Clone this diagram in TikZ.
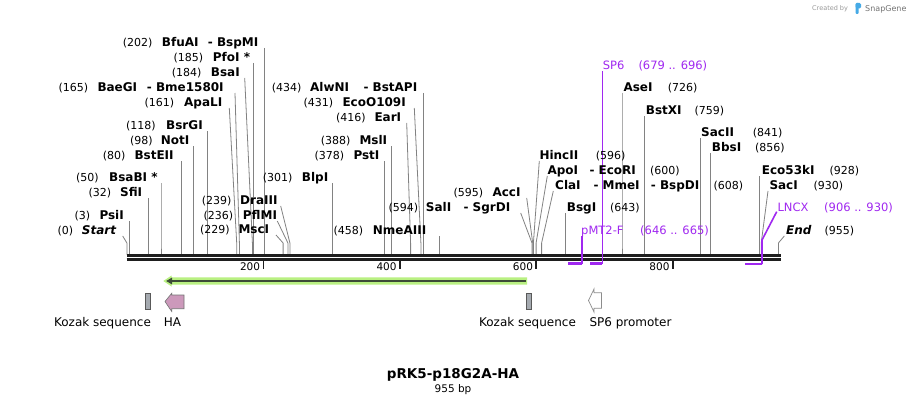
\documentclass[tikz,border=0pt]{standalone}
\usepackage{fontspec}
\setmainfont{DejaVu Sans}
\definecolor{cutgray}{RGB}{130,130,130}
\definecolor{seqblack}{RGB}{30,30,30}
\definecolor{primv}{RGB}{160,40,240}
\definecolor{orfgreen}{RGB}{185,240,130}
\definecolor{orfdark}{RGB}{60,75,55}
\definecolor{kozakfill}{RGB}{165,170,176}
\definecolor{hapink}{RGB}{204,153,187}
\definecolor{sglogo}{RGB}{70,170,230}
\tikzset{
  enzname/.style={anchor=base west, inner sep=0pt, font=\bfseries\fontsize{12}{14}\selectfont},
  enznum/.style={anchor=base west, inner sep=0pt, font=\fontsize{11}{13}\selectfont},
  primlbl/.style={anchor=base west, inner sep=0pt, text=primv, font=\fontsize{11.5}{13}\selectfont},
  featlbl/.style={anchor=base, inner sep=0pt, font=\fontsize{12}{14}\selectfont},
  rulerlbl/.style={anchor=base east, inner sep=0pt, font=\fontsize{10.5}{12}\selectfont},
  cut/.style={draw=cutgray, line width=0.8pt},
  seqline/.style={draw=seqblack, line width=2.6pt},
  tickmark/.style={draw=seqblack, line width=1.6pt},
  primline/.style={draw=primv, line width=1.6pt},
  primbar/.style={draw=primv, line width=2.2pt}
}
\newcommand\enzn[4]{\node[enzname] (#1) at (#2,#3+4.4) {#4};}
\newcommand\enzp[4]{\node[enznum] (#1) at (#2,#3+4.2) {#4};}
\newcommand\cutl[4]{\coordinate (#1) at (#4,254.5); \draw[cut] (#2,#3) -- (#4,243) -- (#1);}
\newcommand\tickat[3]{\coordinate (#1) at (#2,269); \draw[tickmark] (#2,260.5) -- (#1); \node[rulerlbl] (#1l) at (#2-3,270.3) {#3};}
\begin{document}
\begin{tikzpicture}[x=1pt,y=-1pt]
\useasboundingbox[fill=white] (0,0) rectangle (908,404);

% ---- cut-site connectors ----
\cutl{sStart}{122.7}{236}{126.9}
\cutl{sPsiI}{128.9}{221}{128.9}
\cutl{sSfiI}{148.7}{198}{148.7}
\cutl{sBsaBI}{161}{183}{161}
\cutl{sBstEII}{181.5}{161}{181.5}
\cutl{sNotI}{193.7}{146}{193.7}
\cutl{sBsrGI}{207.4}{131}{207.4}
\cutl{sApaLI}{229.3}{108}{236.7}
\cutl{sBaeGI}{235}{93}{239.4}
\cutl{sBsaI}{244.7}{78}{252.4}
\cutl{sPfoI}{253.1}{63}{253.1}
\cutl{sBfuAI}{264.7}{48}{264.7}
\cutl{sMscI}{276}{235}{283.1}
\cutl{sPflMI}{277.3}{221}{287.9}
\cutl{sDraIII}{280.7}{206}{289.9}
\cutl{sBlpI}{332.2}{183}{332.2}
\cutl{sPstI}{384.7}{161}{384.7}
\cutl{sMslI}{391.5}{146}{391.5}
\cutl{sEarI}{406.7}{123}{410.6}
\cutl{sEcoO}{414.3}{108}{420.9}
\cutl{sAlwNI}{422.9}{93}{422.9}
\cutl{sNmeAIII}{439.3}{236}{439.3}
\cutl{sSalI}{520.7}{213}{532}
\cutl{sAccI}{526.7}{198}{532.7}
\cutl{sHincII}{539.3}{161}{533.4}
\cutl{sApoI}{547.3}{176}{536.1}
\cutl{sClaI}{553.3}{191}{541.6}
\cutl{sBsgI}{565.4}{213}{565.4}
\cutl{sAseI}{622}{93}{622}
\cutl{sBstXI}{644.5}{116}{644.5}
\cutl{sSacII}{700.5}{138}{700.5}
\cutl{sBbsI}{710.7}{153}{710.7}
\cutl{sEco53kI}{759.8}{176}{759.8}
\cutl{sSacI}{768}{191}{761.2}
\cutl{sEnd}{784.3}{236}{778.4}

% ---- sequence ----
\coordinate (seqA1) at (126.5,255.3); \coordinate (seqA2) at (781,255.3);
\coordinate (seqB1) at (126.5,259.3); \coordinate (seqB2) at (781,259.3);
\draw[seqline] (seqA1) -- (seqA2);
\draw[seqline] (seqB1) -- (seqB2);
\tickat{t200}{263.3}{200}
\tickat{t400}{399.8}{400}
\tickat{t600}{536.2}{600}
\tickat{t800}{672.7}{800}

% ---- primers ----
\node[primlbl] (SP6) at (602.7,65+4.2) {SP6};
\node[primlbl] (SP6r) at (638.3,65+4.2) {(679 .. 696)};
\node[primlbl] (pMT) at (581,230+4.2) {pMT2-F};
\node[primlbl] (pMTr) at (640,230+4.2) {(646 .. 665)};
\node[primlbl] (LNCX) at (777.3,207+4.2) {LNCX};
\node[primlbl] (LNCXr) at (824,207+4.2) {(906 .. 930)};
\coordinate (pSP6a) at (590,263.5); \coordinate (pSP6b) at (602.3,263.5);
\draw[primbar] (pSP6a) -- (pSP6b);
\draw[primline] (pSP6b) -- (602.3,71);
\coordinate (pMTa) at (568,263.5); \coordinate (pMTb) at (581.7,263.5);
\draw[primbar] (pMTa) -- (pMTb);
\draw[primline] (pMTb) -- (581.7,235.5);
\coordinate (pLa) at (745,264); \coordinate (pLb) at (762,264);
\draw[primbar] (pLa) -- (pLb);
\draw[primline] (pLb) -- (762,240) -- (776.7,211.7);

% ---- enzyme labels, left ----
\enzp{n202}{122.7}{42}{(202)} \enzn{BfuAI}{161.7}{42}{BfuAI} \enzn{BspMI}{207.7}{42}{- BspMI}
\enzp{n185}{173.3}{57}{(185)} \enzn{PfoI}{212.7}{57}{PfoI *}
\enzp{n184}{171.7}{72}{(184)} \enzn{BsaI}{210.7}{72}{BsaI}
\enzp{n165}{58.3}{87}{(165)} \enzn{BaeGI}{97.3}{87}{BaeGI} \enzn{Bme}{146.7}{87}{- Bme1580I}
\enzp{n161}{144.3}{102}{(161)} \enzn{ApaLI}{184}{102}{ApaLI}
\enzp{n118}{126}{125}{(118)} \enzn{BsrGI}{166}{125}{BsrGI}
\enzp{n98}{130}{140}{(98)} \enzn{NotI}{160.7}{140}{NotI}
\enzp{n80}{102.7}{155}{(80)} \enzn{BstEII}{134.3}{155}{BstEII}
\enzp{n50}{76}{177}{(50)} \enzn{BsaBI}{109}{177}{BsaBI *}
\enzp{n32}{88.3}{192}{(32)} \enzn{SfiI}{120}{192}{SfiI}
\enzp{n3}{74.3}{215}{(3)} \enzn{PsiI}{99.3}{215}{PsiI}
\enzp{n0}{57.3}{230}{(0)} \enzn{Start}{81.7}{230}{\itshape Start}
\enzp{n239}{201.7}{200}{(239)} \enzn{DraIII}{240}{200}{DraIII}
\enzp{n236}{203.3}{215}{(236)} \enzn{PflMI}{242.7}{215}{PflMI}
\enzp{n229}{200}{229}{(229)} \enzn{MscI}{238.3}{229}{MscI}
\enzp{n301}{262.7}{177}{(301)} \enzn{BlpI}{301.7}{177}{BlpI}
\enzp{n434}{271.7}{87}{(434)} \enzn{AlwNI}{310}{87}{AlwNI} \enzn{BstAPI}{363.3}{87}{- BstAPI}
\enzp{n431}{303.3}{102}{(431)} \enzn{EcoO}{342.3}{102}{EcoO109I}
\enzp{n416}{336}{117}{(416)} \enzn{EarI}{374.3}{117}{EarI}
\enzp{n388}{320.7}{140}{(388)} \enzn{MslI}{359.3}{140}{MslI}
\enzp{n378}{314.3}{155}{(378)} \enzn{PstI}{353.3}{155}{PstI}
\enzp{n595}{453.3}{192}{(595)} \enzn{AccI}{492.3}{192}{AccI}
\enzp{n594}{388.3}{207}{(594)} \enzn{SalI}{425.7}{207}{SalI} \enzn{SgrDI}{463.3}{207}{- SgrDI}
\enzp{n458}{333.3}{230}{(458)} \enzn{NmeAIII}{372.7}{230}{NmeAIII}

% ---- enzyme labels, right ----
\enzn{HincII}{539.3}{155}{HincII} \enzp{n596}{595.7}{155}{(596)}
\enzn{ApoI}{547.3}{170}{ApoI} \enzn{EcoRI}{589.3}{170}{- EcoRI} \enzp{n600}{650}{170}{(600)}
\enzn{ClaI}{555}{185}{ClaI} \enzn{MmeI}{593.3}{185}{- MmeI} \enzn{BspDI}{650.7}{185}{- BspDI} \enzp{n608}{713.3}{185}{(608)}
\enzn{BsgI}{566.7}{207}{BsgI} \enzp{n643}{610}{207}{(643)}
\enzn{AseI}{623.3}{87}{AseI} \enzp{n726}{667.7}{87}{(726)}
\enzn{BstXI}{645.7}{110}{BstXI} \enzp{n759}{694.3}{110}{(759)}
\enzn{SacII}{701}{132}{SacII} \enzp{n841}{752.7}{132}{(841)}
\enzn{BbsI}{711.7}{147}{BbsI} \enzp{n856}{755}{147}{(856)}
\enzn{Eco53kI}{761.7}{170}{Eco53kI} \enzp{n928}{829.3}{170}{(928)}
\enzn{SacI}{769.3}{185}{SacI} \enzp{n930}{813.3}{185}{(930)}
\enzn{End}{786}{230}{\itshape End} \enzp{n955}{824.3}{230}{(955)}

% ---- ORF arrow ----
\fill[orfgreen] (527,277.3) -- (171.5,277.3) -- (171.5,275.5) -- (163.3,281) -- (171.5,286.5) -- (171.5,284.7) -- (527,284.7) -- cycle;
\coordinate (orfR) at (525.5,281); \coordinate (orfL) at (170.5,281);
\draw[orfdark, line width=2.6pt] (orfR) -- (orfL);
\fill[orfdark] (166.2,281) -- (172,277.6) -- (172,284.4) -- cycle;

% ---- features ----
\draw[fill=kozakfill, draw=black!65, line width=0.9pt] (145,293.3) rectangle (150.5,309.8);
\draw[fill=kozakfill, draw=black!65, line width=0.9pt] (526,293.3) rectangle (531.5,309.8);
\draw[fill=hapink, draw=black!55, line width=0.6pt] (165,301.5) -- (171.7,293.3) -- (171.7,295) -- (184,295) -- (184,308.7) -- (171.7,308.7) -- (171.7,311.5) -- cycle;
\draw[fill=white, draw=black!45, line width=0.7pt] (588.5,300.5) -- (594,289) -- (594,292.7) -- (601.5,292.7) -- (601.5,308.3) -- (594,308.3) -- (594,312) -- cycle;
\node[featlbl] (kozL) at (102.5,326) {Kozak sequence};
\node[featlbl] (haL) at (172.5,326) {HA};
\node[featlbl] (kozR) at (527.5,326) {Kozak sequence};
\node[featlbl] (sp6L) at (630.5,326) {SP6 promoter};

% ---- title ----
\node[anchor=base, inner sep=0pt, font=\bfseries\fontsize{13.5}{16}\selectfont] (title) at (453,378) {pRK5-p18G2A-HA};
\node[anchor=base, inner sep=0pt, font=\fontsize{10.5}{12}\selectfont] (bp) at (453,392) {955 bp};

% ---- credit ----
\node[anchor=base west, inner sep=0pt, text=black!40, font=\fontsize{6.5}{8}\selectfont] (cred) at (812,11) {Created by};
\fill[sglogo, rounded corners=1pt] (855.5,3) rectangle (858.5,14);
\fill[sglogo, rounded corners=1.5pt] (855.5,3) rectangle (861,8.5);
\node[anchor=base west, inner sep=0pt, text=black!55, font=\fontsize{8}{9}\selectfont] (sg) at (865,11.5) {SnapGene};
\end{tikzpicture}
\end{document}
